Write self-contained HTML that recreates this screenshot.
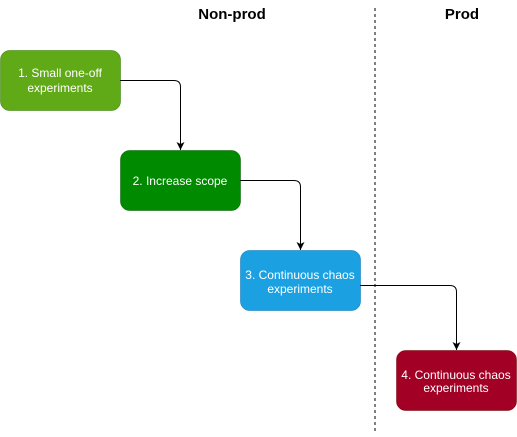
<!DOCTYPE html>
<html><head><style>
body{margin:0;background:#fff;width:517px;height:432px;overflow:hidden}
svg text{font-family:"Liberation Sans",Arial,sans-serif}
</style></head><body>
<svg width="517" height="432" xmlns="http://www.w3.org/2000/svg">
<defs><marker id="a" markerWidth="9" markerHeight="9" refX="8" refY="4" orient="auto" markerUnits="userSpaceOnUse"><path d="M0,0 L8,4 L0,8 L2,4 Z" fill="#000"/></marker></defs>
<line x1="375" y1="8" x2="375" y2="432" stroke="#000" stroke-dasharray="3,3"/>
<text x="232" y="19" font-size="15" font-weight="bold" text-anchor="middle">Non-prod</text>
<text x="462" y="19" font-size="15" font-weight="bold" text-anchor="middle">Prod</text>
<rect x="0.5" y="50.5" width="120" height="60" rx="9" fill="#60a917" stroke="#2d7600" stroke-width="0.5"/>
<rect x="120.5" y="150.5" width="120" height="60" rx="9" fill="#008a00" stroke="#005700" stroke-width="0.5"/>
<rect x="240.5" y="250.5" width="120" height="60" rx="9" fill="#1ba1e2" stroke="#006eaf" stroke-width="0.5"/>
<rect x="396.5" y="350.5" width="120" height="60" rx="9" fill="#a20025" stroke="#6f0000" stroke-width="0.5"/>
<g fill="none" stroke="#000" stroke-width="1">
<path d="M120,80.5 H174 Q180.5,80.5 180.5,87 V150" marker-end="url(#a)"/>
<path d="M240,180.5 H294 Q300.5,180.5 300.5,187 V250" marker-end="url(#a)"/>
<path d="M360,285.5 H450 Q456.5,285.5 456.5,292 V350" marker-end="url(#a)"/>
</g>
<g fill="#fff" font-size="12" text-anchor="middle">
<text x="60" y="77">1. Small one-off</text><text x="60" y="92">experiments</text>
<text x="180" y="185">2. Increase scope</text>
<text x="300" y="279">3. Continuous chaos</text><text x="300" y="293">experiments</text>
<text x="456" y="379">4. Continuous chaos</text><text x="456" y="392">experiments</text>
</g>
</svg>
</body></html>
